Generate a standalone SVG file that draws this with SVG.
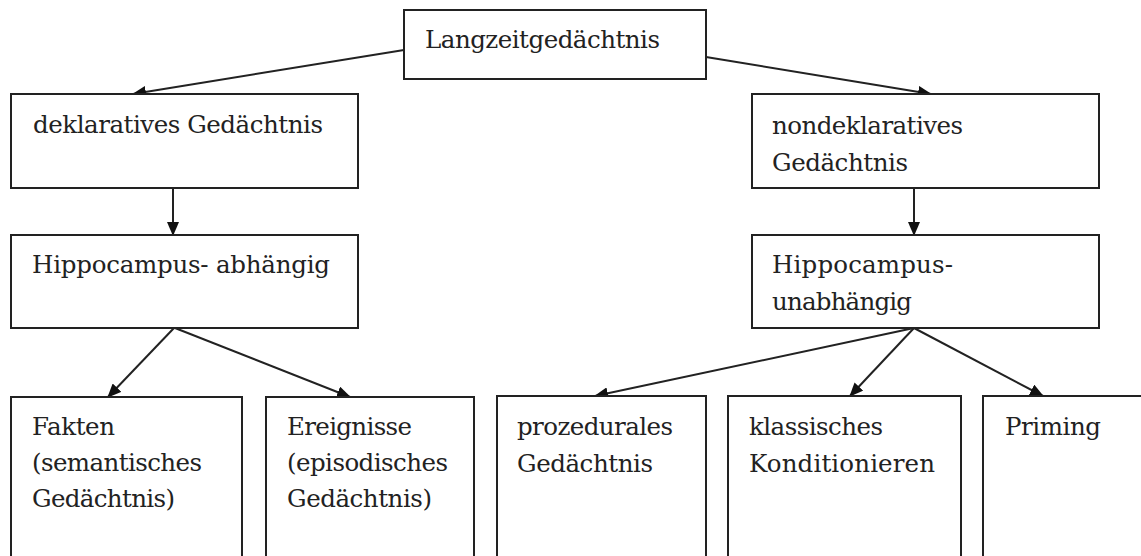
<svg xmlns="http://www.w3.org/2000/svg" width="1141" height="556" viewBox="0 0 1141 556">
<defs>
<style>
.box{fill:#fff;stroke:#222;stroke-width:2}
.t{font-family:'DejaVu Serif','Liberation Serif',serif;font-size:24.5px;fill:#222}
.c{stroke:#222;stroke-width:2;fill:none;marker-end:url(#ah)}
</style>
<marker id="ah" viewBox="0 0 14 12" refX="13" refY="6" markerWidth="14" markerHeight="12" markerUnits="userSpaceOnUse" orient="auto">
<path d="M0,0 L14,6 L0,12 z" fill="#111"/>
</marker>
</defs>
<rect width="1141" height="556" fill="#fff"/>
<g id="connectors">
<line class="c" x1="404" y1="50" x2="133" y2="94"/>
<line class="c" x1="706" y1="57" x2="931" y2="94"/>
<line class="c" x1="173" y1="188" x2="173" y2="235"/>
<line class="c" x1="914" y1="188" x2="914" y2="235"/>
<line class="c" x1="174" y1="328" x2="108" y2="397"/>
<line class="c" x1="175" y1="328" x2="350" y2="397"/>
<line class="c" x1="914" y1="328" x2="595" y2="396"/>
<line class="c" x1="914" y1="328" x2="850" y2="396"/>
<line class="c" x1="914" y1="328" x2="1043" y2="396"/>
</g>
<g id="n-langzeit">
<rect class="box" x="404" y="10" width="302" height="69"/>
<text class="t" x="425" y="48" textLength="235" lengthAdjust="spacing">Langzeitgedächtnis</text>
</g>
<g id="n-deklarativ">
<rect class="box" x="11" y="94" width="347" height="94"/>
<text class="t" x="33" y="133" textLength="290" lengthAdjust="spacing">deklaratives Gedächtnis</text>
</g>
<g id="n-nondeklarativ">
<rect class="box" x="752" y="94" width="347" height="94"/>
<text class="t" x="772" y="134" textLength="191" lengthAdjust="spacing">nondeklaratives</text>
<text class="t" x="772" y="171" textLength="136" lengthAdjust="spacing">Gedächtnis</text>
</g>
<g id="n-hippo-abh">
<rect class="box" x="11" y="235" width="347" height="93"/>
<text class="t" x="32" y="273" textLength="298" lengthAdjust="spacing">Hippocampus- abhängig</text>
</g>
<g id="n-hippo-unabh">
<rect class="box" x="752" y="235" width="347" height="93"/>
<text class="t" x="772" y="273" textLength="181" lengthAdjust="spacing">Hippocampus-</text>
<text class="t" x="772" y="310" textLength="140" lengthAdjust="spacing">unabhängig</text>
</g>
<g id="n-fakten">
<rect class="box" x="11" y="397" width="231" height="170"/>
<text class="t" x="32" y="435" textLength="83" lengthAdjust="spacing">Fakten</text>
<text class="t" x="32" y="471" textLength="170" lengthAdjust="spacing">(semantisches</text>
<text class="t" x="32" y="507" textLength="143" lengthAdjust="spacing">Gedächtnis)</text>
</g>
<g id="n-ereignisse">
<rect class="box" x="266" y="397" width="208" height="170"/>
<text class="t" x="287" y="435" textLength="125" lengthAdjust="spacing">Ereignisse</text>
<text class="t" x="287" y="471" textLength="161" lengthAdjust="spacing">(episodisches</text>
<text class="t" x="287" y="507" textLength="145" lengthAdjust="spacing">Gedächtnis)</text>
</g>
<g id="n-prozedural">
<rect class="box" x="497" y="396" width="209" height="170"/>
<text class="t" x="517" y="435" textLength="156" lengthAdjust="spacing">prozedurales</text>
<text class="t" x="517" y="472" textLength="136" lengthAdjust="spacing">Gedächtnis</text>
</g>
<g id="n-klassisch">
<rect class="box" x="728" y="396" width="233" height="170"/>
<text class="t" x="749" y="435" textLength="134" lengthAdjust="spacing">klassisches</text>
<text class="t" x="749" y="472" textLength="186" lengthAdjust="spacing">Konditionieren</text>
</g>
<g id="n-priming">
<rect class="box" x="983" y="396" width="170" height="170"/>
<text class="t" x="1005" y="435" textLength="96" lengthAdjust="spacing">Priming</text>
</g>
</svg>
